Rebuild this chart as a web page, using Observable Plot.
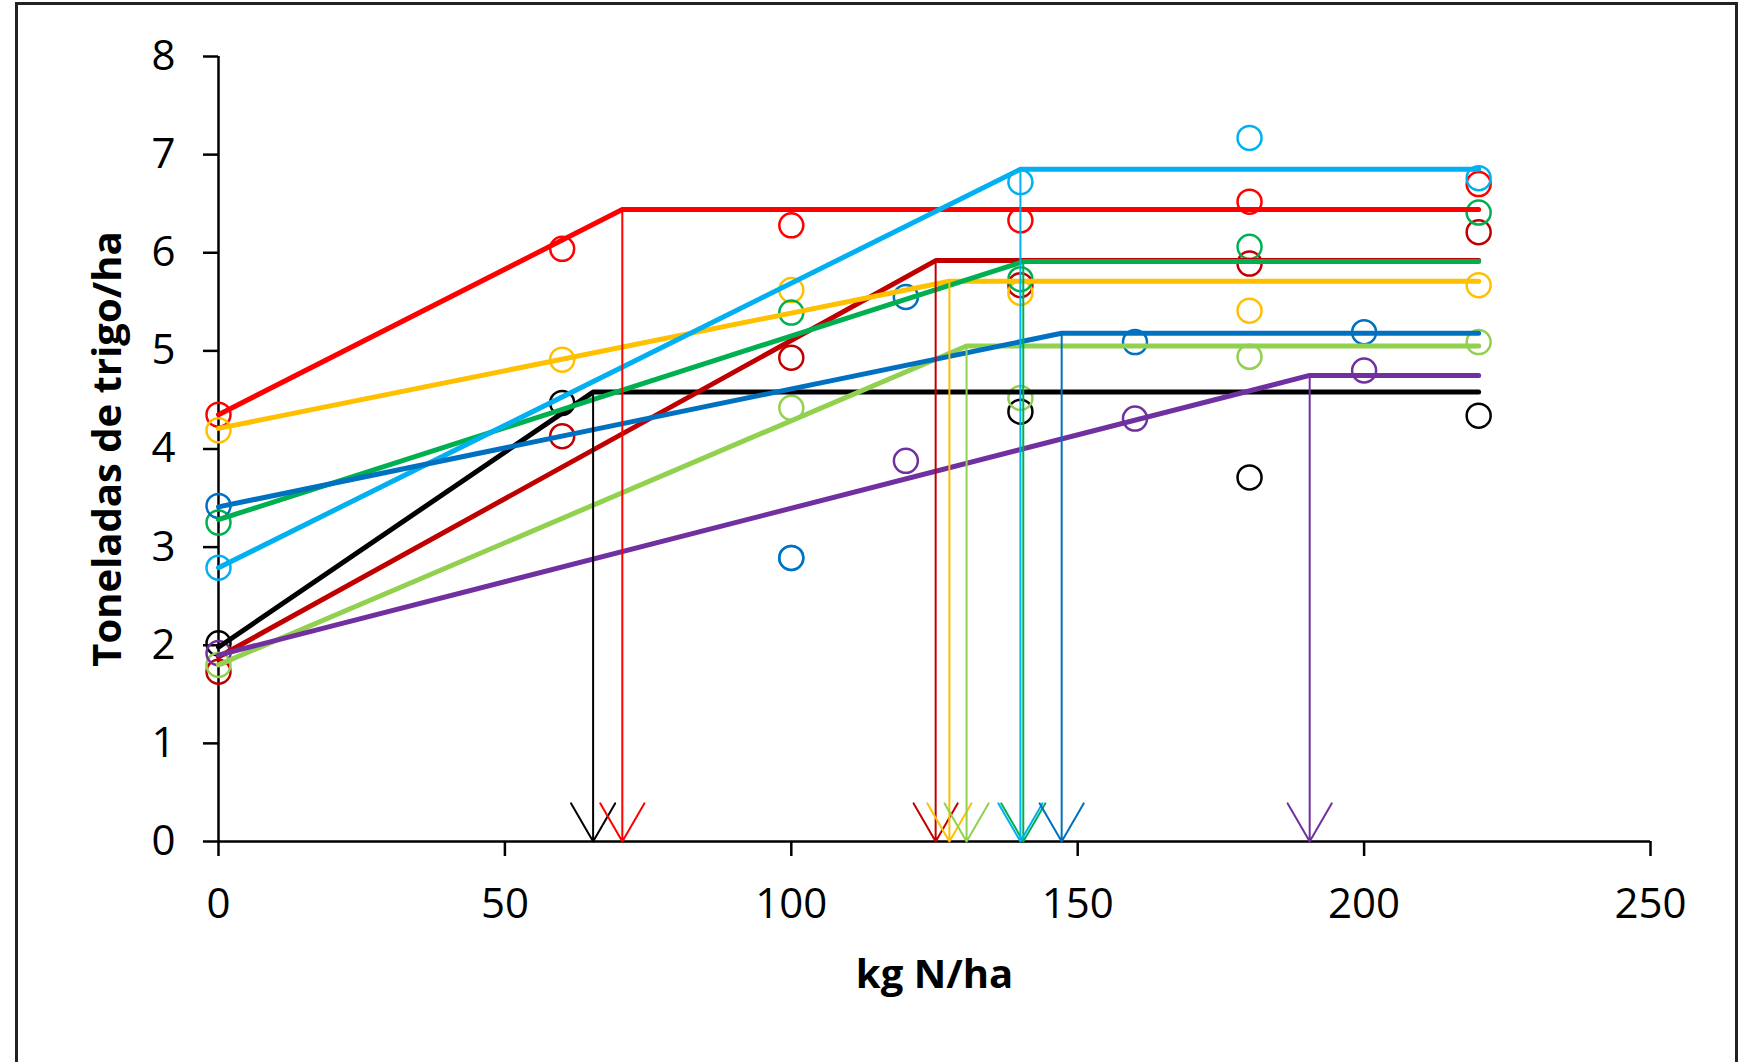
<!DOCTYPE html>
<html>
<head>
<meta charset="utf-8">
<script src="https://cdn.jsdelivr.net/npm/d3@7"></script>
<script src="https://cdn.jsdelivr.net/npm/@observablehq/plot@0.6"></script>
<style>
  html, body { margin: 0; padding: 0; background: #fff; }
  #wrap { position: relative; width: 1752px; height: 1062px; overflow: hidden; }
  #frame { position: absolute; left: 15px; top: 2px; width: 1717px; height: 1070px; border: 3px solid #222; box-sizing: content-box; pointer-events: none; }
  #chart { position: absolute; left: 0; top: 0; }
</style>
</head>
<body>
<div id="wrap"><div id="frame"></div><div id="chart"></div></div>
<script>
// Series (treatments), in drawing order
const names = ["negro", "rojo", "rojo oscuro", "amarillo", "verde claro", "verde", "celeste", "azul", "morado"];
const colors = ["#000000", "#FF0000", "#C00000", "#FFC000", "#92D050", "#00B050", "#00B0F0", "#0070C0", "#7030A0"];

// Linear-plateau fits
const intercepts = [1.98, 4.35, 1.88, 4.21, 1.80, 3.28, 2.79, 3.41, 1.90];
const breakpoints = [65.4, 70.5, 125.2, 127.6, 130.6, 140.5, 140.0, 147.2, 190.5];
const plateaus = [4.58, 6.44, 5.92, 5.71, 5.05, 5.91, 6.85, 5.18, 4.75];
const lineEnd = 220;

// Observed yields (t/ha) per series
const obsX = [
  [0, 60, 140, 180, 220],
  [0, 60, 100, 140, 180, 220],
  [0, 60, 100, 140, 180, 220],
  [0, 60, 100, 140, 180, 220],
  [0, 100, 140, 180, 220],
  [0, 100, 140, 180, 220],
  [0, 100, 140, 180, 220],
  [0, 100, 120, 160, 200],
  [0, 120, 160, 200]
];
const obsY = [
  [2.02, 4.47, 4.38, 3.71, 4.34],
  [4.35, 6.04, 6.28, 6.33, 6.52, 6.70],
  [1.73, 4.13, 4.93, 5.67, 5.89, 6.21],
  [4.19, 4.91, 5.62, 5.59, 5.41, 5.67],
  [1.80, 4.42, 4.52, 4.94, 5.09],
  [3.25, 5.39, 5.73, 6.06, 6.41],
  [2.79, 2.89, 6.72, 7.17, 6.76],
  [3.42, 2.89, 5.55, 5.09, 5.19],
  [1.92, 3.88, 4.31, 4.80]
];

const xTicks = [0, 50, 100, 150, 200, 250];
const yTicks = [0, 1, 2, 3, 4, 5, 6, 7, 8];
const xTitle = "kg N/ha";
const yTitle = "Toneladas de trigo/ha";

// Build tables
const points = [];
names.forEach((n, i) => obsX[i].forEach((x, j) => points.push({name: n, color: colors[i], x, y: obsY[i][j]})));
const fits = [];
names.forEach((n, i) => {
  fits.push({name: n, color: colors[i], x: 0, y: intercepts[i]});
  fits.push({name: n, color: colors[i], x: breakpoints[i], y: plateaus[i]});
  fits.push({name: n, color: colors[i], x: lineEnd, y: plateaus[i]});
});
const drops = names.map((n, i) => ({name: n, color: colors[i], x: breakpoints[i], top: plateaus[i], bottom: 0}));

const font = "'Open Sans', sans-serif";

const chart = Plot.plot({
  width: 1752,
  height: 1062,
  marginLeft: 218,
  marginRight: 102,
  marginTop: 56,
  marginBottom: 221,
  style: {fontFamily: font, background: "transparent", color: "#000", overflow: "visible"},
  x: {domain: [0, 250]},
  y: {domain: [0, 8]},
  color: {type: "identity"},
  marks: [
    Plot.axisX({ticks: xTicks, tickSize: 15, tickPadding: 32, fontSize: 42, strokeWidth: 2.5, label: null}),
    Plot.axisY({ticks: yTicks, tickSize: 15, tickPadding: 28, fontSize: 42, strokeWidth: 2.5, label: null}),
    Plot.ruleY([0], {stroke: "#000", strokeWidth: 2.5}),
    Plot.ruleX([0], {stroke: "#000", strokeWidth: 2.5}),
    Plot.dot(points, {x: "x", y: "y", r: 12, stroke: "color", fill: "none", strokeWidth: 2.5}),
    Plot.line(fits, {x: "x", y: "y", z: "name", stroke: "color", strokeWidth: 5, strokeLinejoin: "miter", strokeLinecap: "round"}),
    Plot.arrow(drops, {x1: "x", x2: "x", y1: "top", y2: "bottom", stroke: "color", strokeWidth: 2, headLength: 33, headAngle: 60}),
    Plot.text([xTitle], {frameAnchor: "bottom", dy: 134, fontSize: 40, fontWeight: "bold", lineAnchor: "middle", fill: "#000"}),
    Plot.text([yTitle], {frameAnchor: "left", dx: -110, rotate: -90, fontSize: 40, fontWeight: "bold", lineAnchor: "middle", textAnchor: "middle", fill: "#000"})
  ]
});
document.getElementById("chart").appendChild(chart);
</script>
</body>
</html>
